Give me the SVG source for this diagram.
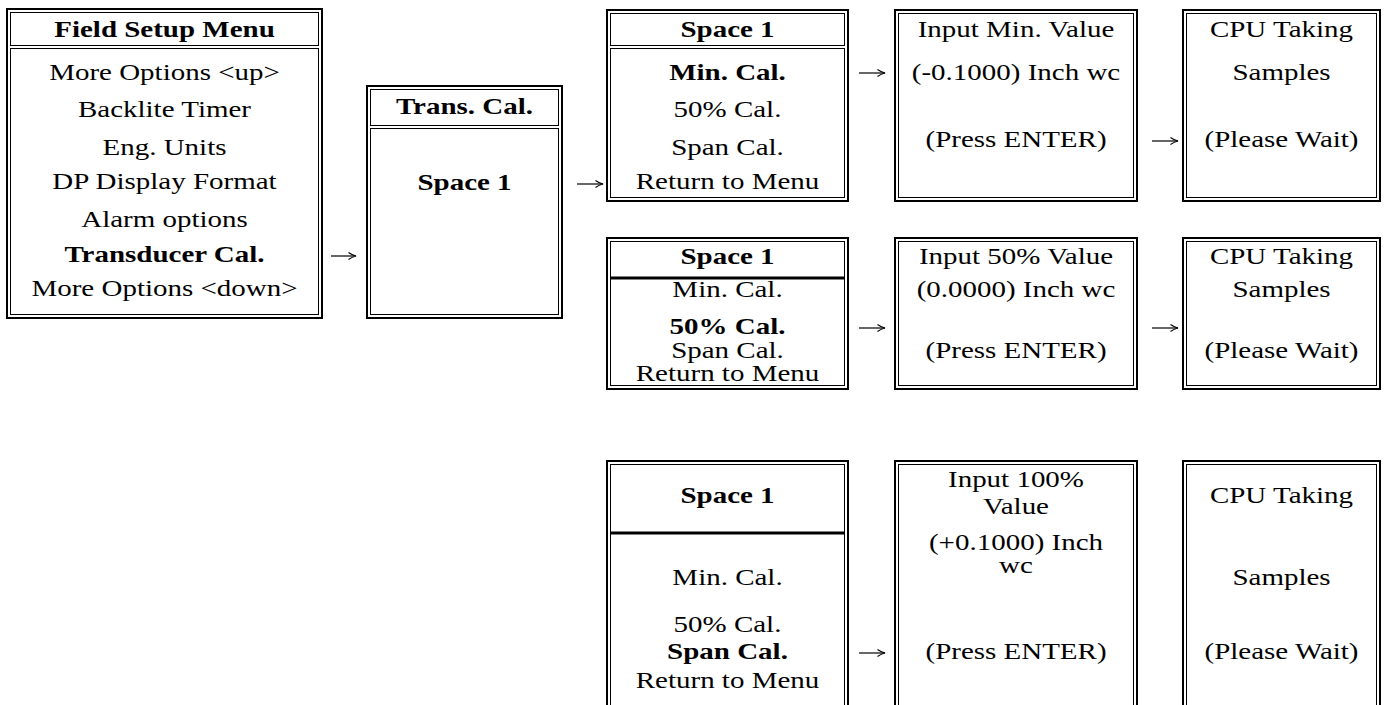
<svg xmlns="http://www.w3.org/2000/svg" width="1385" height="705" viewBox="0 0 1385 705">
<style>
text{font-family:"Liberation Serif","Times New Roman",serif;font-size:23px;fill:#000;text-anchor:middle}
.b{font-weight:bold}
.o{fill:none;stroke:#000;stroke-width:2}
.i{fill:none;stroke:#000;stroke-width:1}
.s{stroke:#000;stroke-width:3}
.c{fill:none;stroke:#000;stroke-width:1.2}
</style>
<defs>
<marker id="ah" markerUnits="userSpaceOnUse" markerWidth="10" markerHeight="10" refX="8" refY="4" orient="auto">
<path d="M0.5,0.5 Q4,3 8,4 Q4,5 0.5,7.5" fill="none" stroke="#000" stroke-width="1.1"/>
</marker>
</defs>
<rect width="1385" height="705" fill="#fff"/>

<g id="field-setup-menu">
<rect class="o" x="7" y="9" width="315" height="309"/>
<rect class="i" x="10.5" y="12.5" width="308" height="33"/>
<rect class="i" x="10.5" y="48.5" width="308" height="266"/>
<text class="b" x="0" y="37" transform="translate(164.5,0) scale(1.26,1)">Field Setup Menu</text>
<text x="0" y="80" transform="translate(164.5,0) scale(1.26,1)">More Options &lt;up&gt;</text>
<text x="0" y="117" transform="translate(164.5,0) scale(1.26,1)">Backlite Timer</text>
<text x="0" y="155" transform="translate(164.5,0) scale(1.26,1)">Eng. Units</text>
<text x="0" y="189" transform="translate(164.5,0) scale(1.26,1)">DP Display Format</text>
<text x="0" y="227" transform="translate(164.5,0) scale(1.26,1)">Alarm options</text>
<text class="b" x="0" y="262" transform="translate(164.5,0) scale(1.26,1)">Transducer Cal.</text>
<text x="0" y="296" transform="translate(164.5,0) scale(1.26,1)">More Options &lt;down&gt;</text>
</g>

<g id="trans-cal">
<rect class="o" x="367" y="86" width="195" height="232"/>
<rect class="i" x="370.5" y="89.5" width="188" height="36"/>
<rect class="i" x="370.5" y="128.5" width="188" height="186"/>
<text class="b" x="0" y="114" transform="translate(464.5,0) scale(1.26,1)">Trans. Cal.</text>
<text class="b" x="0" y="190" transform="translate(464.5,0) scale(1.26,1)">Space 1</text>
</g>

<g id="space1-min">
<rect class="o" x="607" y="10" width="241" height="191"/>
<rect class="i" x="610.5" y="13.5" width="234" height="32"/>
<rect class="i" x="610.5" y="48.5" width="234" height="149"/>
<text class="b" x="0" y="37" transform="translate(727.5,0) scale(1.26,1)">Space 1</text>
<text class="b" x="0" y="80" transform="translate(727.5,0) scale(1.26,1)">Min. Cal.</text>
<text x="0" y="117" transform="translate(727.5,0) scale(1.26,1)">50% Cal.</text>
<text x="0" y="155" transform="translate(727.5,0) scale(1.26,1)">Span Cal.</text>
<text x="0" y="189" transform="translate(727.5,0) scale(1.26,1)">Return to Menu</text>
</g>

<g id="input-min">
<rect class="o" x="895" y="10" width="242" height="191"/>
<rect class="i" x="898.5" y="13.5" width="235" height="184"/>
<text x="0" y="37" transform="translate(1016,0) scale(1.26,1)">Input Min. Value</text>
<text x="0" y="80" transform="translate(1016,0) scale(1.26,1)">(-0.1000) Inch wc</text>
<text x="0" y="147" transform="translate(1016,0) scale(1.26,1)">(Press ENTER)</text>
</g>

<g id="cpu-1">
<rect class="o" x="1183" y="10" width="197" height="191"/>
<rect class="i" x="1186.5" y="13.5" width="190" height="184"/>
<text x="0" y="37" transform="translate(1281.5,0) scale(1.26,1)">CPU Taking</text>
<text x="0" y="80" transform="translate(1281.5,0) scale(1.26,1)">Samples</text>
<text x="0" y="147" transform="translate(1281.5,0) scale(1.26,1)">(Please Wait)</text>
</g>

<g id="space1-50">
<rect class="o" x="607" y="238" width="241" height="151"/>
<rect class="i" x="610.5" y="241.5" width="234" height="144"/>
<line class="s" x1="610.5" y1="278" x2="844.5" y2="278"/>
<text class="b" x="0" y="264" transform="translate(727.5,0) scale(1.26,1)">Space 1</text>
<text x="0" y="297" transform="translate(727.5,0) scale(1.26,1)">Min. Cal.</text>
<text class="b" x="0" y="334" transform="translate(727.5,0) scale(1.26,1)">50% Cal.</text>
<text x="0" y="358" transform="translate(727.5,0) scale(1.26,1)">Span Cal.</text>
<text x="0" y="381" transform="translate(727.5,0) scale(1.26,1)">Return to Menu</text>
</g>

<g id="input-50">
<rect class="o" x="895" y="238" width="242" height="151"/>
<rect class="i" x="898.5" y="241.5" width="235" height="144"/>
<text x="0" y="264" transform="translate(1016,0) scale(1.26,1)">Input 50% Value</text>
<text x="0" y="297" transform="translate(1016,0) scale(1.26,1)">(0.0000) Inch wc</text>
<text x="0" y="358" transform="translate(1016,0) scale(1.26,1)">(Press ENTER)</text>
</g>

<g id="cpu-2">
<rect class="o" x="1183" y="238" width="197" height="151"/>
<rect class="i" x="1186.5" y="241.5" width="190" height="144"/>
<text x="0" y="264" transform="translate(1281.5,0) scale(1.26,1)">CPU Taking</text>
<text x="0" y="297" transform="translate(1281.5,0) scale(1.26,1)">Samples</text>
<text x="0" y="358" transform="translate(1281.5,0) scale(1.26,1)">(Please Wait)</text>
</g>

<g id="space1-span">
<rect class="o" x="607" y="461" width="241" height="260"/>
<rect class="i" x="610.5" y="464.5" width="234" height="252"/>
<line class="s" x1="610.5" y1="533" x2="844.5" y2="533"/>
<text class="b" x="0" y="503" transform="translate(727.5,0) scale(1.26,1)">Space 1</text>
<text x="0" y="585" transform="translate(727.5,0) scale(1.26,1)">Min. Cal.</text>
<text x="0" y="632" transform="translate(727.5,0) scale(1.26,1)">50% Cal.</text>
<text class="b" x="0" y="659" transform="translate(727.5,0) scale(1.26,1)">Span Cal.</text>
<text x="0" y="688" transform="translate(727.5,0) scale(1.26,1)">Return to Menu</text>
</g>

<g id="input-100">
<rect class="o" x="895" y="461" width="242" height="260"/>
<rect class="i" x="898.5" y="464.5" width="235" height="252"/>
<text x="0" y="487" transform="translate(1016,0) scale(1.26,1)">Input 100%</text>
<text x="0" y="514" transform="translate(1016,0) scale(1.26,1)">Value</text>
<text x="0" y="550" transform="translate(1016,0) scale(1.26,1)">(+0.1000) Inch</text>
<text x="0" y="573" transform="translate(1016,0) scale(1.26,1)">wc</text>
<text x="0" y="659" transform="translate(1016,0) scale(1.26,1)">(Press ENTER)</text>
</g>

<g id="cpu-3">
<rect class="o" x="1183" y="461" width="197" height="260"/>
<rect class="i" x="1186.5" y="464.5" width="190" height="252"/>
<text x="0" y="503" transform="translate(1281.5,0) scale(1.26,1)">CPU Taking</text>
<text x="0" y="585" transform="translate(1281.5,0) scale(1.26,1)">Samples</text>
<text x="0" y="659" transform="translate(1281.5,0) scale(1.26,1)">(Please Wait)</text>
</g>

<g id="connectors">
<path class="c" d="M331,256 H356" marker-end="url(#ah)"/>
<path class="c" d="M577,184 H603" marker-end="url(#ah)"/>
<path class="c" d="M859,73 H885" marker-end="url(#ah)"/>
<path class="c" d="M1152,141 H1178" marker-end="url(#ah)"/>
<path class="c" d="M859,328 H885" marker-end="url(#ah)"/>
<path class="c" d="M1152,328 H1178" marker-end="url(#ah)"/>
<path class="c" d="M859,653 H885" marker-end="url(#ah)"/>
</g>
</svg>
